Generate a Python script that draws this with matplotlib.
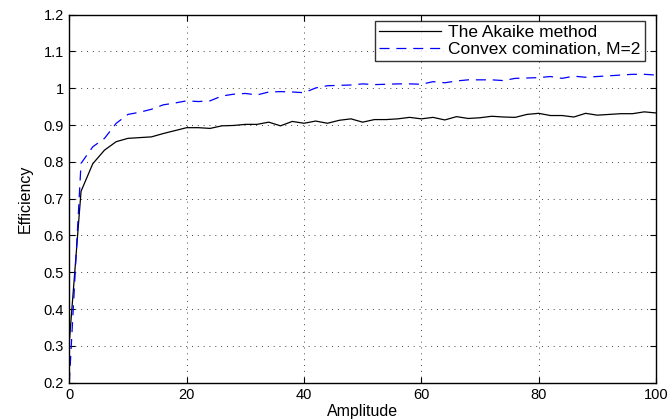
import matplotlib
matplotlib.use("Agg")
import matplotlib.pyplot as plt
from matplotlib.ticker import FixedLocator, FuncFormatter

plt.rcParams['font.family'] = ['Liberation Sans', 'DejaVu Sans']

# amplitude grid (every 2 units)
amplitude = list(range(0, 101, 2))

akaike = [0.31, 0.72, 0.795, 0.832, 0.855, 0.864, 0.866, 0.868, 0.877, 0.885,
          0.893, 0.893, 0.891, 0.898, 0.899, 0.902, 0.902, 0.908, 0.898, 0.910,
          0.905, 0.911, 0.905, 0.913, 0.917, 0.908, 0.915, 0.915, 0.917, 0.921,
          0.917, 0.921, 0.914, 0.923, 0.918, 0.920, 0.924, 0.922, 0.921, 0.929,
          0.932, 0.926, 0.926, 0.922, 0.932, 0.927, 0.929, 0.931, 0.931, 0.936,
          0.933]

convex = [0.20, 0.796, 0.841, 0.864, 0.905, 0.929, 0.935, 0.943, 0.955, 0.960,
          0.966, 0.964, 0.966, 0.979, 0.984, 0.986, 0.982, 0.990, 0.991, 0.990,
          0.988, 1.001, 1.007, 1.008, 1.009, 1.012, 1.010, 1.011, 1.012, 1.012,
          1.011, 1.018, 1.015, 1.020, 1.023, 1.023, 1.023, 1.021, 1.027, 1.028,
          1.029, 1.032, 1.027, 1.033, 1.030, 1.032, 1.034, 1.036, 1.038, 1.038,
          1.036]

x_ticks = [0, 20, 40, 60, 80, 100]
y_ticks = [0.2, 0.3, 0.4, 0.5, 0.6, 0.7, 0.8, 0.9, 1.0, 1.1, 1.2]

fig = plt.figure(figsize=(6.70, 4.19), dpi=100)
ax = fig.add_axes([69.3 / 670, 1 - 382.7 / 419, (656 - 69.3) / 670, (382.7 - 14.7) / 419])

ax.plot(amplitude, akaike, color='black', lw=0.9, label='The Akaike method')
ax.plot(amplitude, convex, color='#0000ff', lw=0.9, dashes=(8, 5.5),
        label='Convex comination, M=2')

ax.set_xlim(0, 100)
ax.set_ylim(0.2, 1.2)
ax.xaxis.set_major_locator(FixedLocator(x_ticks))
ax.yaxis.set_major_locator(FixedLocator(y_ticks))
ax.yaxis.set_major_formatter(FuncFormatter(lambda v, p: '%g' % round(v, 2)))

ax.tick_params(direction='in', length=4, width=0.8, top=True, right=True,
               labelsize=10.5, pad=4, colors='black')
for s in ax.spines.values():
    s.set_linewidth(1.0)

ax.grid(True, color='#444444', linestyle=(0, (1, 5)), linewidth=0.7)

ax.set_xlabel('Amplitude', fontsize=11.5, labelpad=1)
ax.set_ylabel('Efficiency', fontsize=11.5, labelpad=8)

leg = ax.legend(loc='upper right', bbox_to_anchor=((645 - 69.3) / 586.7, 1 - (21 - 14.7) / 368),
                fontsize=12.5, frameon=True, fancybox=False, edgecolor='black',
                handlelength=3.6, handletextpad=0.4, borderpad=0.25,
                labelspacing=0.08, borderaxespad=0)
leg.get_frame().set_linewidth(1.0)

fig.savefig('out.png', dpi=100)
